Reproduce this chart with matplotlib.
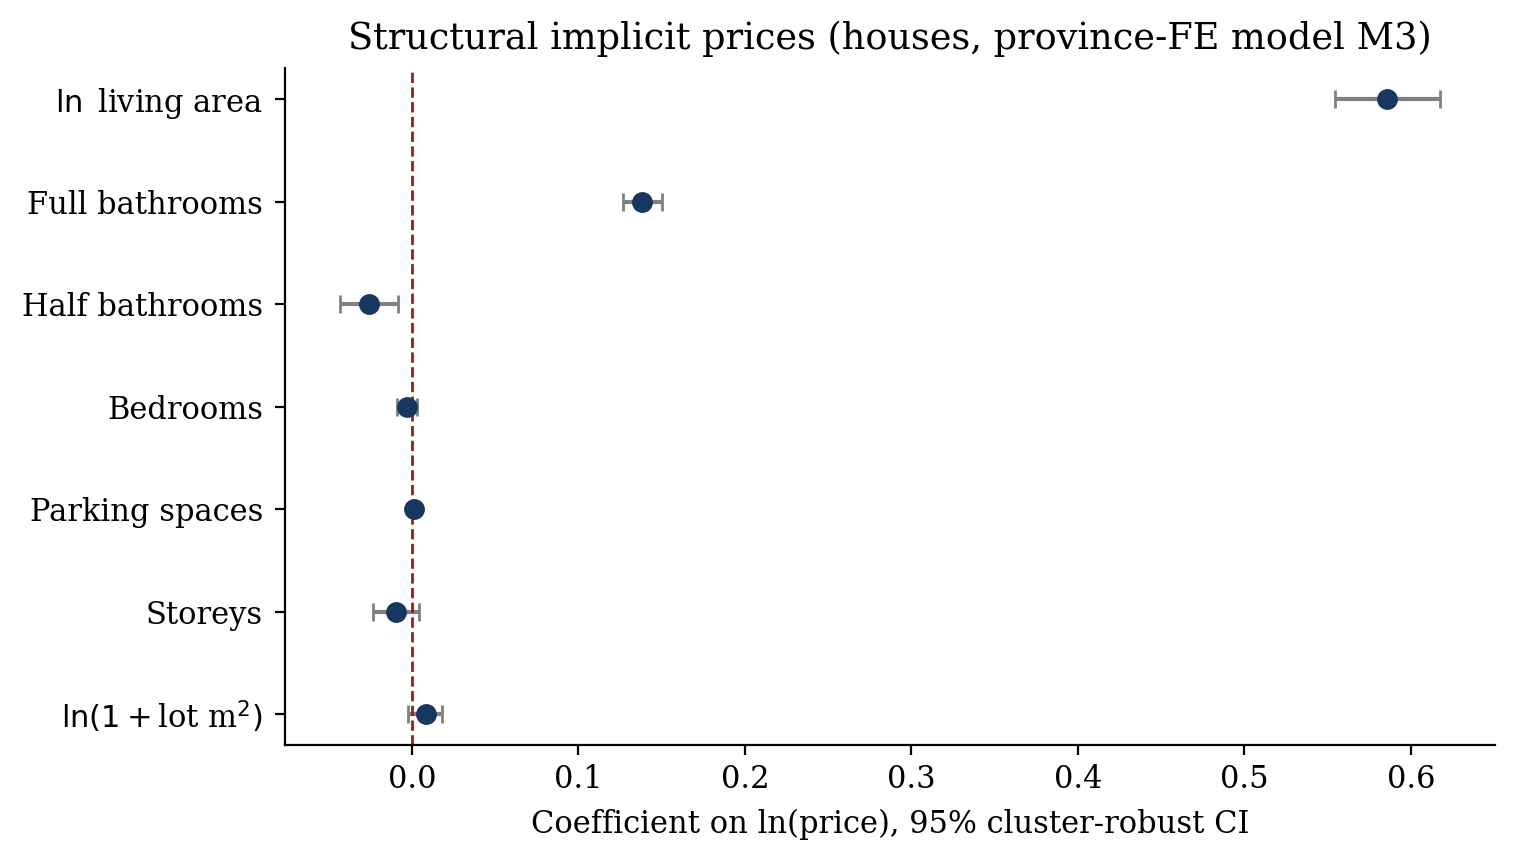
import numpy as np
import matplotlib.pyplot as plt

plt.rcParams['font.family'] = 'DejaVu Serif'
plt.rcParams['font.size'] = 11

labels = [r"$\ln$ living area", "Full bathrooms", "Half bathrooms", "Bedrooms",
          "Parking spaces", "Storeys", r"$\ln(1+$lot m$^2)$"]
coef = [0.5856, 0.1380, -0.0258, -0.0030, 0.0012, -0.0096, 0.0084]
ci_lo = [0.5544, 0.1270, -0.0430, -0.0090, 0.0002, -0.0234, -0.0024]
ci_hi = [0.6174, 0.1500, -0.0084, 0.0030, 0.0022, 0.0042, 0.0180]

coef = np.array(coef)
err = np.vstack([coef - np.array(ci_lo), np.array(ci_hi) - coef])
y = np.arange(len(labels))

fig, ax = plt.subplots(figsize=(7.585, 4.32), dpi=200)
fig.subplots_adjust(left=0.188, right=0.9855, top=0.921, bottom=0.138)

ax.errorbar(coef, y, xerr=err, fmt='o', color='#17375e', ecolor='gray',
            elinewidth=1.5, capsize=3.3, markersize=6.5)
ax.axvline(0, color='#9b1c1c', linestyle='--', linewidth=1)
ax.set_yticks(y)
ax.set_yticklabels(labels)
ax.invert_yaxis()
ax.tick_params(axis='y', pad=4.5)
ax.set_xlabel("Coefficient on ln(price), 95% cluster-robust CI", labelpad=5)
ax.set_title("Structural implicit prices (houses, province-FE model M3)", fontsize='large', pad=7)
ax.spines['top'].set_visible(False)
ax.spines['right'].set_visible(False)

fig.savefig("out.png", dpi=200)
plt.close(fig)
